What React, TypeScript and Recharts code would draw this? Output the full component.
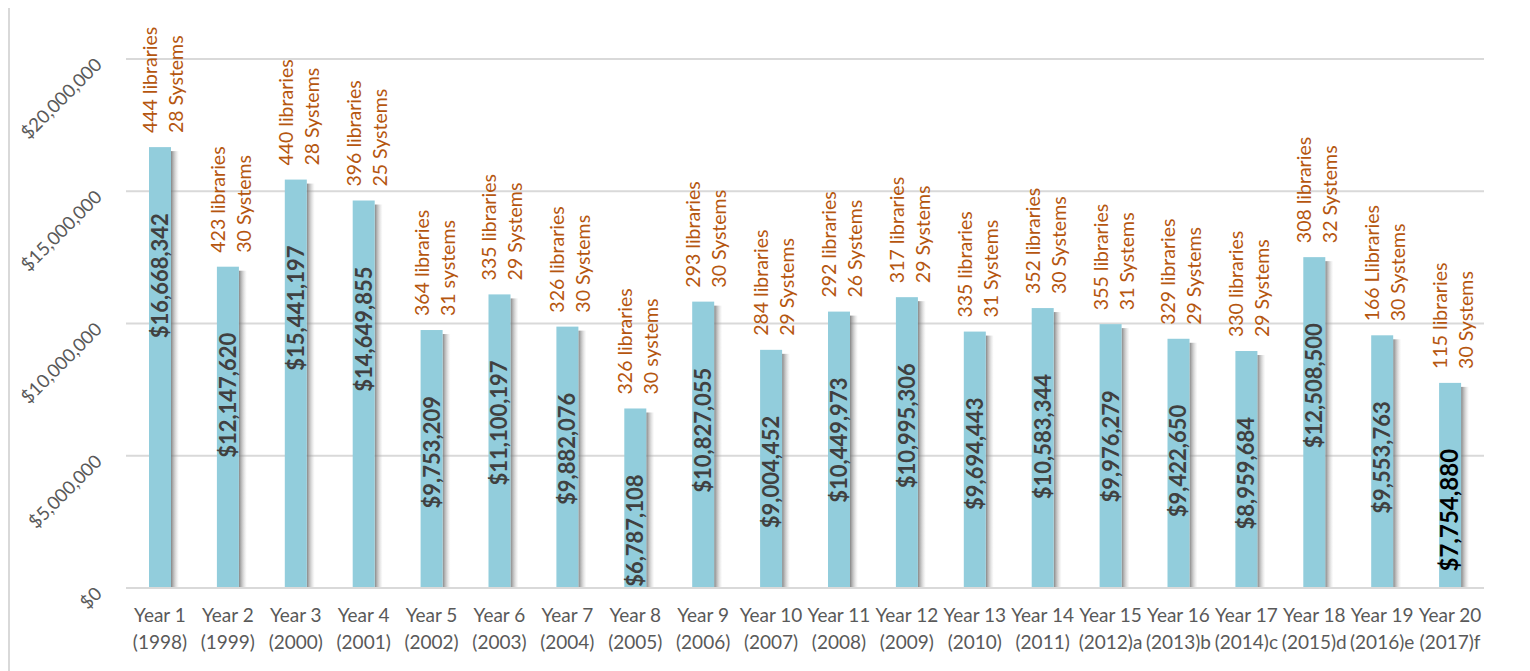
import { BarChart, Bar, XAxis, YAxis, CartesianGrid, LabelList } from "recharts";

const CATEGORIES = [
  "Year 1", "Year 2", "Year 3", "Year 4", "Year 5", "Year 6", "Year 7",
  "Year 8", "Year 9", "Year 10", "Year 11", "Year 12", "Year 13", "Year 14",
  "Year 15", "Year 16", "Year 17", "Year 18", "Year 19", "Year 20",
];

const YEARS = [
  "(1998)", "(1999)", "(2000)", "(2001)", "(2002)", "(2003)", "(2004)",
  "(2005)", "(2006)", "(2007)", "(2008)", "(2009)", "(2010)", "(2011)",
  "(2012)a", "(2013)b", "(2014)c", "(2015)d", "(2016)e", "(2017)f",
];

const AMOUNTS = [
  16668342, 12147620, 15441197, 14649855, 9753209, 11100197, 9882076,
  6787108, 10827055, 9004452, 10449973, 10995306, 9694443, 10583344,
  9976279, 9422650, 8959684, 12508500, 9553763, 7754880,
];

const LIBRARIES = [
  "444 libraries", "423 libraries", "440 libraries", "396 libraries",
  "364 libraries", "335 libraries", "326 libraries", "326 libraries",
  "293 libraries", "284 libraries", "292 libraries", "317 libraries",
  "335 libraries", "352 libraries", "355 libraries", "329 libraries",
  "330 libraries", "308 libraries", "166 Llibraries", "115 libraries",
];

const SYSTEMS = [
  "28 Systems", "30 Systems", "28 Systems", "25 Systems", "31 systems",
  "29 Systems", "30 Systems", "30 systems", "30 Systems", "29 Systems",
  "26 Systems", "29 Systems", "31 Systems", "30 Systems", "31 Systems",
  "29 Systems", "29 Systems", "32 Systems", "30 Systems", "30 Systems",
];

const Y_TICKS = [0, 5000000, 10000000, 15000000, 20000000];

const FONT = "Lato, 'Open Sans', sans-serif";

const data = CATEGORIES.map((c, i) => ({
  name: c + "\n" + YEARS[i],
  amount: AMOUNTS[i],
  libs: LIBRARIES[i] + "\n" + SYSTEMS[i],
}));

const money = (v: number) => "$" + v.toLocaleString("en-US");

function ShadowBar(props: any) {
  const { x, y, width, height } = props;
  if (!height) return null;
  return (
    <g>
      <rect x={x + width} y={y + 4} width={8} height={height - 4} fill="url(#barShadow)" />
      <rect x={x} y={y} width={width} height={height} fill="#92CDDC" />
    </g>
  );
}

function ValueLabel(props: any) {
  const { x, y, width, value, index } = props;
  const cx = x + width / 2;
  const last = index === AMOUNTS.length - 1;
  const ty = y + 66;
  const bx = cx + 8;
  return (
    <text
      x={bx}
      y={ty}
      transform={`rotate(-90, ${bx}, ${ty})`}
      textAnchor="end"
      fontFamily={FONT}
      fontWeight="bold"
      fontSize={last ? 24 : 22}
      fill={last ? "#000000" : "#404040"}
    >
      {money(value)}
    </text>
  );
}

function LibLabel(props: any) {
  const { x, y, width, value } = props;
  const cx = x + width / 2;
  const [l1, l2] = String(value).split("\n");
  const ty = y - 14;
  const bx = cx - 3;
  return (
    <text
      x={bx}
      y={ty}
      transform={`rotate(-90, ${bx}, ${ty})`}
      textAnchor="start"
      fontFamily={FONT}
      fontSize={19.5}
      fill="#B5560F"
    >
      <tspan x={bx} y={ty}>{l1}</tspan>
      <tspan x={bx} y={ty + 26}>{l2}</tspan>
    </text>
  );
}

function XTick(props: any) {
  const { x, y, payload } = props;
  const [l1, l2] = String(payload.value).split("\n");
  return (
    <text x={x} y={y} textAnchor="middle" fontFamily={FONT} fontSize={19} fill="#595959">
      <tspan x={x} y={y + 26}>{l1}</tspan>
      <tspan x={x} y={y + 53}>{l2}</tspan>
    </text>
  );
}

function YTick(props: any) {
  const { y, payload } = props;
  const ax = 93;
  const ay = y + 7;
  return (
    <text
      x={ax}
      y={ay}
      transform={`rotate(-45, ${ax}, ${ay})`}
      textAnchor="end"
      fontFamily={FONT}
      fontSize={18.5}
      fill="#595959"
    >
      {money(payload.value)}
    </text>
  );
}

export default function App() {
  return (
    <div
      style={{
        marginTop: -3,
        width: 1515,
        height: 672,
        border: "2px solid #d9d9d9",
        background: "#fff",
      }}
    >
      <BarChart
        width={1515}
        height={668}
        data={data}
        margin={{ top: 52, right: 41, left: 0, bottom: 27 }}
      >
        <defs>
          <linearGradient id="barShadow" x1="0" y1="0" x2="1" y2="0">
            <stop offset="0%" stopColor="#6f6f6f" stopOpacity={0.85} />
            <stop offset="100%" stopColor="#bfbfbf" stopOpacity={0} />
          </linearGradient>
        </defs>
        <CartesianGrid vertical={false} stroke="#d9d9d9" strokeWidth={2} />
        <XAxis
          dataKey="name"
          interval={0}
          height={60}
          tickLine={false}
          axisLine={{ stroke: "#d9d9d9", strokeWidth: 2 }}
          tick={<XTick />}
        />
        <YAxis
          width={116}
          domain={[0, 20000000]}
          ticks={Y_TICKS}
          axisLine={false}
          tickLine={false}
          tick={<YTick />}
        />
        <Bar dataKey="amount" barSize={22} shape={<ShadowBar />} isAnimationActive={false}>
          <LabelList dataKey="amount" content={<ValueLabel />} />
          <LabelList dataKey="libs" content={<LibLabel />} />
        </Bar>
      </BarChart>
    </div>
  );
}
